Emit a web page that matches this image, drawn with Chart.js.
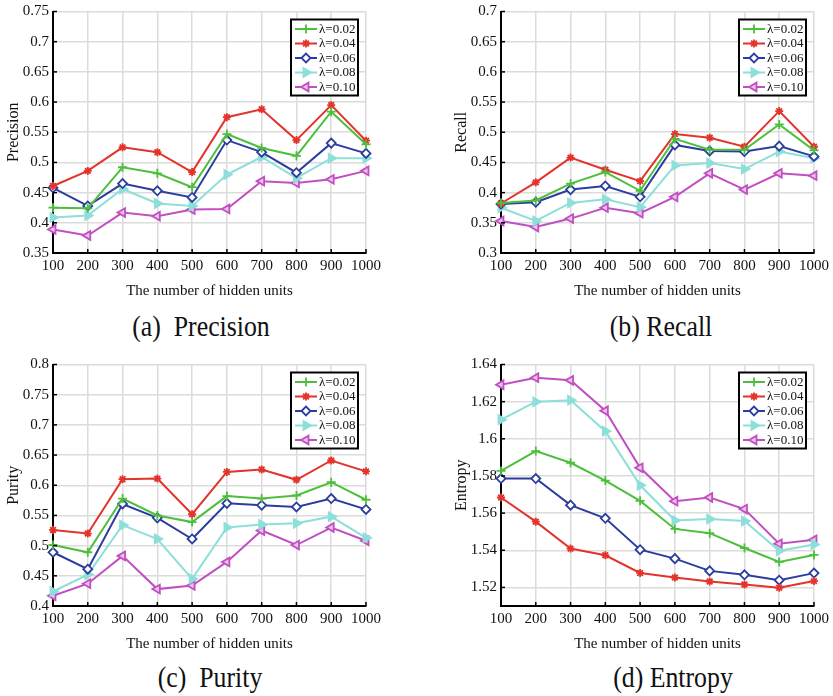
<!DOCTYPE html>
<html>
<head>
<meta charset="utf-8">
<script src="https://cdn.jsdelivr.net/npm/chart.js@4.4.1/dist/chart.umd.min.js"></script>
<style>
  body { margin: 0; background: #fff; width: 833px; height: 696px; position: relative; overflow: hidden; }
  .panel { position: absolute; width: 384px; height: 300px; }
  .cap { position: absolute; font-family: "Liberation Serif", serif; font-size: 30px; color: #111;
         white-space: pre; transform: translateX(-50%) scaleX(0.86); line-height: 30px; }
</style>
</head>
<body>
<div class="panel" style="left:1px;top:0px"><canvas id="cPrecision"></canvas></div>
<div class="panel" style="left:449px;top:0px"><canvas id="cRecall"></canvas></div>
<div class="panel" style="left:1px;top:353px"><canvas id="cPurity"></canvas></div>
<div class="panel" style="left:449px;top:353px"><canvas id="cEntropy"></canvas></div>
<div class="cap" style="left:201px;top:311px">(a)  Precision</div>
<div class="cap" style="left:661px;top:311px">(b) Recall</div>
<div class="cap" style="left:210px;top:662px">(c)  Purity</div>
<div class="cap" style="left:673px;top:662px">(d) Entropy</div>
<script>
// categorías del eje x
const hiddenUnits = ['100', '200', '300', '400', '500', '600', '700', '800', '900', '1000'];
const lambdas = ['λ=0.02', 'λ=0.04', 'λ=0.06', 'λ=0.08', 'λ=0.10'];

// (a) Precision
const precision002 = [0.425, 0.424, 0.492, 0.482, 0.459, 0.547, 0.524, 0.511, 0.584, 0.530];
const precision004 = [0.461, 0.486, 0.525, 0.517, 0.484, 0.575, 0.588, 0.537, 0.595, 0.536];
const precision006 = [0.458, 0.428, 0.465, 0.453, 0.442, 0.537, 0.517, 0.483, 0.532, 0.515];
const precision008 = [0.409, 0.412, 0.456, 0.432, 0.428, 0.480, 0.509, 0.474, 0.507, 0.507];
const precision010 = [0.389, 0.379, 0.417, 0.411, 0.422, 0.423, 0.469, 0.466, 0.472, 0.486];

// (b) Recall
const recall002 = [0.383, 0.387, 0.415, 0.434, 0.403, 0.489, 0.471, 0.471, 0.513, 0.470];
const recall004 = [0.382, 0.417, 0.458, 0.438, 0.419, 0.497, 0.491, 0.476, 0.535, 0.476];
const recall006 = [0.381, 0.384, 0.405, 0.411, 0.393, 0.479, 0.469, 0.468, 0.477, 0.460];
const recall008 = [0.375, 0.353, 0.383, 0.389, 0.376, 0.445, 0.449, 0.439, 0.468, 0.457];
const recall010 = [0.353, 0.343, 0.357, 0.375, 0.366, 0.393, 0.432, 0.405, 0.432, 0.428];

// (c) Purity
const purity002 = [0.501, 0.489, 0.578, 0.550, 0.539, 0.582, 0.578, 0.583, 0.605, 0.576];
const purity004 = [0.526, 0.520, 0.610, 0.611, 0.552, 0.622, 0.626, 0.609, 0.641, 0.623];
const purity006 = [0.489, 0.461, 0.569, 0.546, 0.511, 0.570, 0.567, 0.564, 0.578, 0.560];
const purity008 = [0.424, 0.452, 0.534, 0.511, 0.445, 0.530, 0.535, 0.537, 0.548, 0.513];
const purity010 = [0.417, 0.437, 0.483, 0.428, 0.434, 0.473, 0.525, 0.501, 0.530, 0.508];

// (d) Entropy
const entropy002 = [1.5827, 1.5934, 1.5871, 1.5775, 1.5666, 1.5515, 1.5492, 1.5412, 1.5337, 1.5375];
const entropy004 = [1.5684, 1.5554, 1.5409, 1.5373, 1.5278, 1.5253, 1.5232, 1.5216, 1.5198, 1.5234];
const entropy006 = [1.5786, 1.5786, 1.5643, 1.5572, 1.5403, 1.5355, 1.5289, 1.5268, 1.5239, 1.5277];
const entropy008 = [1.6103, 1.6199, 1.6208, 1.6041, 1.5750, 1.5560, 1.5568, 1.5557, 1.5397, 1.5431];
const entropy010 = [1.6291, 1.6329, 1.6315, 1.6151, 1.5844, 1.5664, 1.5684, 1.5622, 1.5435, 1.5456];

// marcas del eje y
const precisionTicks = [0.35, 0.4, 0.45, 0.5, 0.55, 0.6, 0.65, 0.7, 0.75];
const recallTicks = [0.3, 0.35, 0.4, 0.45, 0.5, 0.55, 0.6, 0.65, 0.7];
const purityTicks = [0.4, 0.45, 0.5, 0.55, 0.6, 0.65, 0.7, 0.75, 0.8];
const entropyTicks = [1.52, 1.54, 1.56, 1.58, 1.6, 1.62, 1.64];

// estilos de cada serie (colores tipo MATLAB)
const seriesStyles = [
    { color: '#4dbf3d', pointStyle: 'cross', fill: '#4dbf3d', rotation: 0, radius: 4.5 },
    { color: '#e3332b', pointStyle: 'star', fill: '#e3332b', rotation: 0, radius: 4 },
    { color: '#2b3d9e', pointStyle: 'rectRot', fill: '#ffffff', rotation: 0, radius: 4.5 },
    { color: '#8ddfd9', pointStyle: 'triangle', fill: '#8ddfd9', rotation: 90, radius: 5 },
    { color: '#c24fc2', pointStyle: 'triangle', fill: '#e9c2e9', rotation: -90, radius: 5 }
];

const serif = '"Liberation Serif", "Times New Roman", serif';

// leyenda con recuadro dentro del área del gráfico
const boxLegend = {
    id: 'boxLegend',
    afterDraw(chart) {
        const ctx = chart.ctx;
        const area = chart.chartArea;
        const w = 67, h = 76, rowH = 14.5;
        const x0 = area.right - 8 - w, y0 = area.top + 8;
        ctx.save();
        ctx.fillStyle = '#fff';
        ctx.fillRect(x0, y0, w, h);
        ctx.strokeStyle = '#000';
        ctx.lineWidth = 2;
        ctx.strokeRect(x0, y0, w, h);
        ctx.font = '13px ' + serif;
        ctx.textBaseline = 'middle';
        chart.data.datasets.forEach((ds, i) => {
            const cy = y0 + 9.5 + i * rowH;
            ctx.strokeStyle = ds.borderColor;
            ctx.lineWidth = 2;
            ctx.beginPath();
            ctx.moveTo(x0 + 4, cy);
            ctx.lineTo(x0 + 26, cy);
            ctx.stroke();
            ctx.fillStyle = ds.pointBackgroundColor;
            ctx.strokeStyle = ds.borderColor;
            ctx.lineWidth = 1.8;
            Chart.helpers.drawPoint(ctx, {
                pointStyle: ds.pointStyle, rotation: ds.pointRotation,
                radius: ds.pointRadius, borderWidth: 1.8
            }, x0 + 15, cy);
            ctx.fillStyle = '#111';
            ctx.fillText(ds.label, x0 + 28, cy + 0.5);
        });
        ctx.restore();
    }
};

// marcas de tick hacia dentro, como en MATLAB
const innerTicks = {
    id: 'innerTicks',
    afterDatasetsDraw(chart) {
        const ctx = chart.ctx;
        const area = chart.chartArea;
        ctx.save();
        ctx.strokeStyle = '#000';
        ctx.lineWidth = 1.5;
        chart.scales.x.ticks.forEach((t, i) => {
            const px = chart.scales.x.getPixelForTick(i);
            ctx.beginPath(); ctx.moveTo(px, area.bottom); ctx.lineTo(px, area.bottom - 4); ctx.stroke();
        });
        chart.scales.y.ticks.forEach(t => {
            const py = chart.scales.y.getPixelForValue(t.value);
            ctx.beginPath(); ctx.moveTo(area.left, py); ctx.lineTo(area.left + 4, py); ctx.stroke();
        });
        ctx.restore();
    }
};

function buildDatasets(seriesList) {
    return seriesList.map((values, i) => {
        const s = seriesStyles[i];
        return {
            label: lambdas[i], data: values,
            borderColor: s.color, borderWidth: 2,
            pointStyle: s.pointStyle, pointRotation: s.rotation,
            pointRadius: s.radius, pointBorderWidth: 1.8,
            pointBackgroundColor: s.fill, pointBorderColor: s.color,
            tension: 0, fill: false
        };
    });
}

function createChart(canvasId, yTitle, seriesList, yTicks, yMin, yMax) {
    return new Chart(document.getElementById(canvasId), {
        type: 'line',
        data: { labels: hiddenUnits, datasets: buildDatasets(seriesList) },
        options: {
            responsive: true, maintainAspectRatio: false, animation: false,
            layout: { padding: { top: 8, right: 16, left: 0, bottom: 0 } },
            plugins: { legend: { display: false }, tooltip: { enabled: false } },
            scales: {
                x: {
                    offset: false,
                    grid: { color: '#dcdcdc', lineWidth: 1.5, tickLength: 0 },
                    border: { color: '#000', width: 2 },
                    ticks: { color: '#111', font: { family: serif, size: 15 }, padding: 4, maxRotation: 0, autoSkip: false },
                    title: { display: true, text: 'The number of hidden units', color: '#111',
                             font: { family: serif, size: 15 }, padding: { top: 6, bottom: 0 } },
                    afterFit: (scale) => { scale.height = 47; }
                },
                y: {
                    min: yMin, max: yMax,
                    afterBuildTicks: (scale) => { scale.ticks = yTicks.map(v => ({ value: v })); },
                    grid: { color: '#dcdcdc', lineWidth: 1.5, tickLength: 0 },
                    border: { color: '#000', width: 2 },
                    ticks: { color: '#111', font: { family: serif, size: 15, lineHeight: 1 }, padding: 4,
                             callback: (v) => String(+Number(v).toFixed(2)) },
                    title: { display: true, text: yTitle, color: '#111',
                             font: { family: serif, size: 16 }, padding: { top: 3, bottom: 0 } },
                    afterFit: (scale) => { scale.width = 52; }
                }
            }
        },
        plugins: [innerTicks, boxLegend]
    });
}

createChart('cPrecision', 'Precision',
    [precision002, precision004, precision006, precision008, precision010], precisionTicks, 0.35, 0.75);
createChart('cRecall', 'Recall',
    [recall002, recall004, recall006, recall008, recall010], recallTicks, 0.3, 0.7);
createChart('cPurity', 'Purity',
    [purity002, purity004, purity006, purity008, purity010], purityTicks, 0.4, 0.8);
createChart('cEntropy', 'Entropy',
    [entropy002, entropy004, entropy006, entropy008, entropy010], entropyTicks, 1.51, 1.64);
</script>
</body>
</html>
